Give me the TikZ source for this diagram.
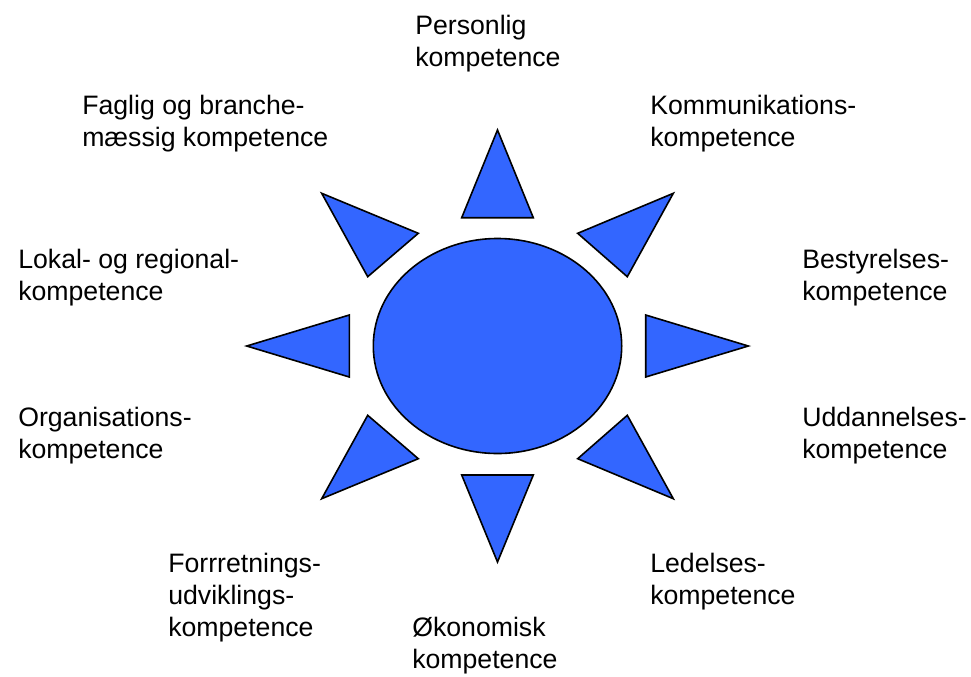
\documentclass[tikz,border=0pt]{standalone}
\usepackage{fontspec}
\setmainfont{Liberation Sans}
\usepackage{tikz}
\usetikzlibrary{calc}
\definecolor{sunblue}{RGB}{51,102,255}
\tikzset{
  ray/.style={draw=black, fill=sunblue, line width=1.2pt, line join=miter},
  lbl/.style={anchor=north west, inner sep=0pt, align=left, font=\fontsize{20}{24}\selectfont}
}

\begin{document}
\begin{tikzpicture}[x=0.75pt,y=-0.75pt]
\useasboundingbox (0,0) rectangle (971,676);
% the sun
\draw[ray] (497.5,346) ellipse (124.2 and 107.5);
\draw[ray] (497.5,130) -- (533.3,217.7) -- (461.7,217.7) -- cycle;
\draw[ray] (497.5,562) -- (533.3,475) -- (461.7,475) -- cycle;
\draw[ray] (246.7,346) -- (349.3,315) -- (349.3,377) -- cycle;
\draw[ray] (748.3,346) -- (645.7,315) -- (645.7,377) -- cycle;
\draw[ray] (321.7,193.3) -- (418.3,233.3) -- (367.7,276.7) -- cycle;
\draw[ray] (673.3,193.3) -- (577.7,233.3) -- (627.3,276.7) -- cycle;
\draw[ray] (321.7,498.7) -- (367.7,415.3) -- (418.3,458.7) -- cycle;
\draw[ray] (673.3,498.7) -- (627.3,415.3) -- (577.7,458.7) -- cycle;
% labels
\node[lbl] (personlig) at (415,14.5) {Personlig\\kompetence};
\node[lbl] (faglig) at (82,95) {Faglig og branche-\\mæssig kompetence};
\node[lbl] (kommunikation) at (650,95) {Kommunikations-\\kompetence};
\node[lbl] (lokal) at (18,249) {Lokal- og regional-\\kompetence};
\node[lbl] (bestyrelse) at (802,249) {Bestyrelses-\\kompetence};
\node[lbl] (organisation) at (18,407) {Organisations-\\kompetence};
\node[lbl] (uddannelse) at (802,407) {Uddannelses-\\kompetence};
\node[lbl] (forretning) at (168,553) {Forrretnings-\\udviklings-\\kompetence};
\node[lbl] (ledelse) at (650,553) {Ledelses-\\kompetence};
\node[lbl] (oekonomi) at (412,617) {Økonomisk\\kompetence};
\end{tikzpicture}
\end{document}
